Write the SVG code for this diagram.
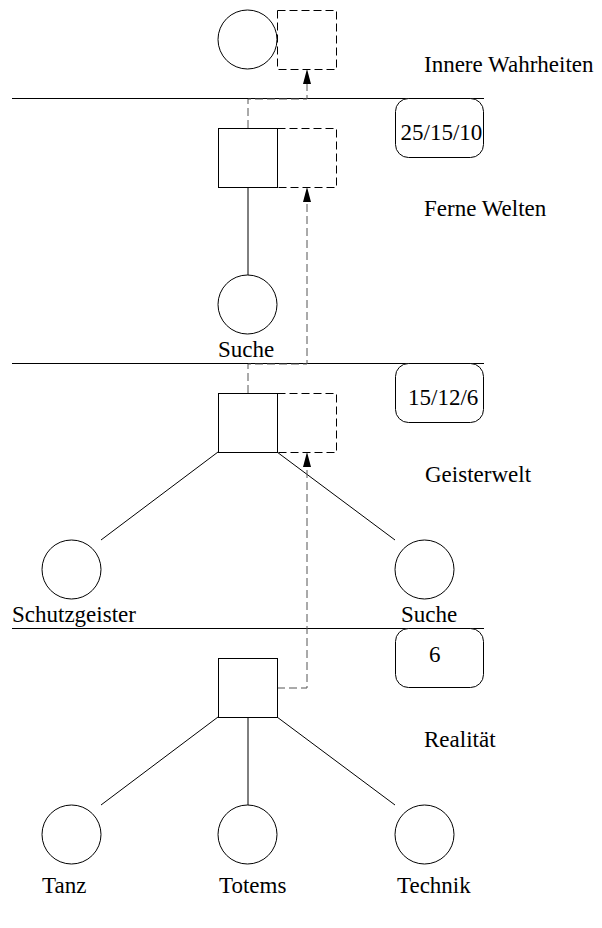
<svg xmlns="http://www.w3.org/2000/svg" width="602" height="928" viewBox="0 0 602 928" font-family="'Liberation Serif', 'DejaVu Serif', serif" font-size="23">
  <style>
    .solid { fill: none; stroke: #000; stroke-width: 1; }
    .node { fill: #fff; stroke: #000; stroke-width: 1; }
    .ghost { fill: none; stroke: #000; stroke-width: 1; stroke-dasharray: 8 4; }
    .link { fill: none; stroke: #555; stroke-width: 1; stroke-dasharray: 8 4; }
    .tag { fill: #fff; stroke: #000; stroke-width: 1; }
    .lbl { font-family: 'Liberation Serif', 'DejaVu Serif', serif; font-size: 23px; fill: #000; }
  </style>

  <!-- level separators -->
  <g id="separators" class="solid">
    <line x1="12" y1="98.5" x2="484" y2="98.5"/>
    <line x1="12" y1="363.5" x2="484" y2="363.5"/>
    <line x1="12" y1="628.5" x2="484" y2="628.5"/>
  </g>

  <!-- level names -->
  <g id="levels" class="lbl">
    <text x="424" y="72">Innere Wahrheiten</text>
    <text x="424" y="216">Ferne Welten</text>
    <text x="425" y="482">Geisterwelt</text>
    <text x="424" y="747">Realität</text>
  </g>

  <!-- cost tags -->
  <g id="tag-1">
    <rect class="tag" x="395.5" y="98.5" width="88" height="59" rx="13"/>
    <text class="lbl" x="400.5" y="140">25/15/10</text>
  </g>
  <g id="tag-2">
    <rect class="tag" x="395.5" y="363.5" width="88" height="59" rx="13"/>
    <text class="lbl" x="408" y="405">15/12/6</text>
  </g>
  <g id="tag-3">
    <rect class="tag" x="395.5" y="628.5" width="88" height="59" rx="13"/>
    <text class="lbl" x="429" y="662">6</text>
  </g>

  <!-- tree edges and upward links -->
  <g id="connectors">
    <line class="solid" x1="248" y1="187" x2="248" y2="275"/>
    <line class="solid" x1="218" y1="452" x2="101" y2="540"/>
    <line class="solid" x1="277" y1="452" x2="395" y2="540"/>
    <line class="solid" x1="218" y1="717" x2="101" y2="805"/>
    <line class="solid" x1="248" y1="717" x2="248" y2="805"/>
    <line class="solid" x1="277" y1="717" x2="395" y2="805"/>

    <path class="link" d="M248,128 V99 H307 V84"/>
    <path class="link" d="M248,393 V364 H307 V202"/>
    <path class="link" d="M277,688 H307 V467"/>
    <polygon points="307,69 303,84 311,84" fill="#000"/>
    <polygon points="307,187 303,202 311,202" fill="#000"/>
    <polygon points="307,452 303,467 311,467" fill="#000"/>
  </g>

  <!-- Innere Wahrheiten -->
  <g id="node-top">
    <circle class="node" cx="247.5" cy="39.5" r="29.5"/>
    <rect class="ghost" x="277.5" y="10.5" width="59" height="59"/>
  </g>

  <!-- Ferne Welten -->
  <g id="node-ferne">
    <rect class="node" x="218.5" y="128.5" width="59" height="59"/>
    <rect class="ghost" x="277.5" y="128.5" width="59" height="59"/>
  </g>
  <g id="node-suche-1">
    <circle class="node" cx="247.5" cy="304.5" r="29.5"/>
    <text class="lbl" x="218" y="357">Suche</text>
  </g>

  <!-- Geisterwelt -->
  <g id="node-geister">
    <rect class="node" x="218.5" y="393.5" width="59" height="59"/>
    <rect class="ghost" x="277.5" y="393.5" width="59" height="59"/>
  </g>
  <g id="node-schutzgeister">
    <circle class="node" cx="71.5" cy="569.5" r="29.5"/>
    <text class="lbl" x="12" y="622">Schutzgeister</text>
  </g>
  <g id="node-suche-2">
    <circle class="node" cx="424.5" cy="569.5" r="29.5"/>
    <text class="lbl" x="401" y="622">Suche</text>
  </g>

  <!-- Realität -->
  <g id="node-real">
    <rect class="node" x="218.5" y="658.5" width="59" height="59"/>
  </g>
  <g id="node-tanz">
    <circle class="node" cx="71.5" cy="834.5" r="29.5"/>
    <text class="lbl" x="42" y="893">Tanz</text>
  </g>
  <g id="node-totems">
    <circle class="node" cx="247.5" cy="834.5" r="29.5"/>
    <text class="lbl" x="219" y="893">Totems</text>
  </g>
  <g id="node-technik">
    <circle class="node" cx="424.5" cy="834.5" r="29.5"/>
    <text class="lbl" x="397" y="893">Technik</text>
  </g>
</svg>
